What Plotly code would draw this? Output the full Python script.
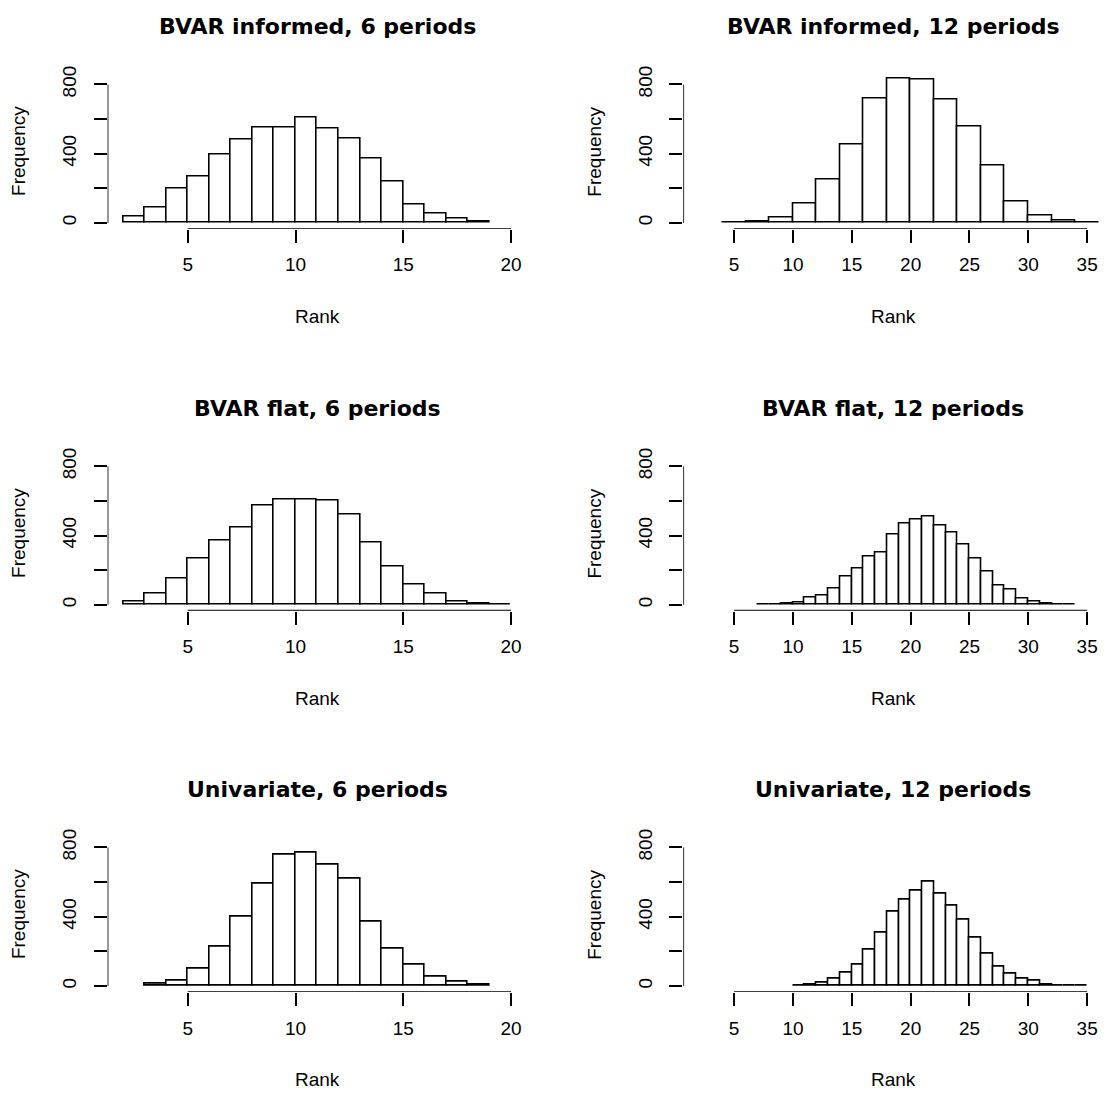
import plotly.graph_objects as go

# ---------------- data ----------------
titles = ["BVAR informed, 6 periods", "BVAR informed, 12 periods",
          "BVAR flat, 6 periods", "BVAR flat, 12 periods",
          "Univariate, 6 periods", "Univariate, 12 periods"]

breaks_inf6 = [2, 3, 4, 5, 6, 7, 8, 9, 10, 11, 12, 13, 14, 15, 16, 17, 18, 19]
counts_inf6 = [36, 90, 200, 269, 397, 482, 549, 553, 607, 545, 488, 372, 240, 104, 56, 25, 10]

breaks_inf12 = [4, 6, 8, 10, 12, 14, 16, 18, 20, 22, 24, 26, 28, 30, 32, 34, 36]
counts_inf12 = [3, 8, 29, 113, 250, 455, 716, 835, 829, 710, 557, 334, 125, 44, 13, 4]

breaks_flat6 = [2, 3, 4, 5, 6, 7, 8, 9, 10, 11, 12, 13, 14, 15, 16, 17, 18, 19, 20]
counts_flat6 = [21, 63, 154, 270, 371, 448, 571, 608, 606, 600, 520, 360, 219, 120, 63, 17, 6, 4]

breaks_flat12 = [7, 8, 9, 10, 11, 12, 13, 14, 15, 16, 17, 18, 19, 20, 21, 22, 23, 24, 25,
                 26, 27, 28, 29, 30, 31, 32, 33, 34]
counts_flat12 = [2, 3, 5, 15, 42, 53, 97, 162, 208, 278, 301, 404, 470, 491, 512, 459, 419,
                 347, 269, 190, 114, 86, 38, 21, 10, 4, 2]

breaks_uni6 = [3, 4, 5, 6, 7, 8, 9, 10, 11, 12, 13, 14, 15, 16, 17, 18, 19]
counts_uni6 = [13, 31, 103, 226, 398, 591, 760, 771, 700, 618, 369, 214, 124, 52, 23, 6]

breaks_uni12 = [10, 11, 12, 13, 14, 15, 16, 17, 18, 19, 20, 21, 22, 23, 24, 25, 26, 27, 28,
                29, 30, 31, 32, 33, 34, 35]
counts_uni12 = [4, 10, 19, 42, 78, 126, 209, 306, 429, 500, 553, 603, 532, 467, 381, 278,
                186, 113, 73, 40, 29, 10, 4, 2, 2]

x_ticks_6 = [5, 10, 15, 20]
x_ticks_12 = [5, 10, 15, 20, 25, 30, 35]
y_ticks = [0, 200, 400, 600, 800]
y_ticklabels = ["0", "", "400", "", "800"]
x_label = "Rank"
y_label = "Frequency"

xlim_6 = [2, 20]
xlim_12 = [2, 35]
ylim = [0, 835]

panels = [
    (breaks_inf6, counts_inf6, x_ticks_6, xlim_6),
    (breaks_inf12, counts_inf12, x_ticks_12, xlim_12),
    (breaks_flat6, counts_flat6, x_ticks_6, xlim_6),
    (breaks_flat12, counts_flat12, x_ticks_12, xlim_12),
    (breaks_uni6, counts_uni6, x_ticks_6, xlim_6),
    (breaks_uni12, counts_uni12, x_ticks_12, xlim_12),
]

# ---------------- layout geometry (pixels) ----------------
W, H = 1104, 1096
col_px = [(107.6, 526.5), (683.3, 1102.7)]
row_base = [217.3, 601.7, 985.3]          # pixel of y = 0
ppu = 139.4 / 800.0                        # pixels per count
FONT = "Liberation Sans, Arial, Helvetica, sans-serif"
TFONT = "DejaVu Sans, Liberation Sans, Arial, sans-serif"
LW = 1.6

fig = go.Figure()
annotations = []
shapes = []
layout = dict(width=W, height=H, margin=dict(l=0, r=0, t=0, b=0),
              paper_bgcolor="white", plot_bgcolor="white", showlegend=False,
              font=dict(family=FONT, size=19, color="black"), bargap=0)


def pad(lim):
    d = (lim[1] - lim[0]) * 0.04
    return [lim[0] - d, lim[1] + d]


yr = pad(ylim)
for i, (brk, cnt, xt, xl) in enumerate(panels):
    r, c = divmod(i, 2)
    n = i + 1
    xa = "x" if n == 1 else f"x{n}"
    ya = "y" if n == 1 else f"y{n}"
    x0p, x1p = col_px[c]
    top = row_base[r] - yr[1] * ppu
    bot = row_base[r] - yr[0] * ppu
    xr = pad(xl)

    centers = [(brk[k] + brk[k + 1]) / 2 for k in range(len(cnt))]
    widths = [brk[k + 1] - brk[k] for k in range(len(cnt))]
    fig.add_trace(go.Bar(x=centers, y=cnt, width=widths, xaxis=xa, yaxis=ya,
                         marker=dict(color="white", line=dict(color="black", width=LW)),
                         hoverinfo="skip"))

    layout["xaxis" if n == 1 else f"xaxis{n}"] = dict(
        domain=[x0p / W, x1p / W], range=xr, anchor=ya,
        showgrid=False, zeroline=False, showline=False,
        tickmode="array", tickvals=xt, ticktext=[str(v) for v in xt],
        ticks="outside", ticklen=13, tickwidth=LW, tickcolor="black",
        ticklabelstandoff=6, tickfont=dict(size=19, family=FONT))
    layout["yaxis" if n == 1 else f"yaxis{n}"] = dict(
        domain=[1 - bot / H, 1 - top / H], range=yr, anchor=xa,
        showgrid=False, zeroline=False, showline=False,
        tickmode="array", tickvals=y_ticks, ticktext=y_ticklabels,
        ticks="outside", ticklen=13, tickwidth=LW, tickcolor="black",
        tickangle=-90, ticklabelstandoff=10, tickfont=dict(size=19, family=FONT))

    # axis lines spanning first..last tick (R style)
    shapes.append(dict(type="line", xref=xa, yref=ya, x0=xt[0], x1=xt[-1], y0=yr[0], y1=yr[0],
                       line=dict(color="black", width=LW)))
    shapes.append(dict(type="line", xref=xa, yref=ya, x0=xr[0], x1=xr[0],
                       y0=y_ticks[0], y1=y_ticks[-1], line=dict(color="black", width=LW)))

    cx = (x0p + x1p) / 2
    # title
    annotations.append(dict(text=f"<b>{titles[i]}</b>", xref="paper", yref="paper",
                            x=cx / W, y=1 - (row_base[r] - 197.5) / H, showarrow=False,
                            xanchor="center", yanchor="middle",
                            font=dict(size=22, family=TFONT)))
    # x label
    annotations.append(dict(text=x_label, xref="paper", yref="paper",
                            x=cx / W, y=1 - (row_base[r] + 94) / H, showarrow=False,
                            xanchor="center", yanchor="middle", font=dict(size=19, family=FONT)))
    # y label
    annotations.append(dict(text=y_label, xref="paper", yref="paper",
                            x=(x0p - 89) / W, y=1 - (row_base[r] - 72) / H, showarrow=False,
                            xanchor="center", yanchor="middle", textangle=-90,
                            font=dict(size=19, family=FONT)))

layout["annotations"] = annotations
layout["shapes"] = shapes
fig.update_layout(**layout)
fig.write_html("out.html")
